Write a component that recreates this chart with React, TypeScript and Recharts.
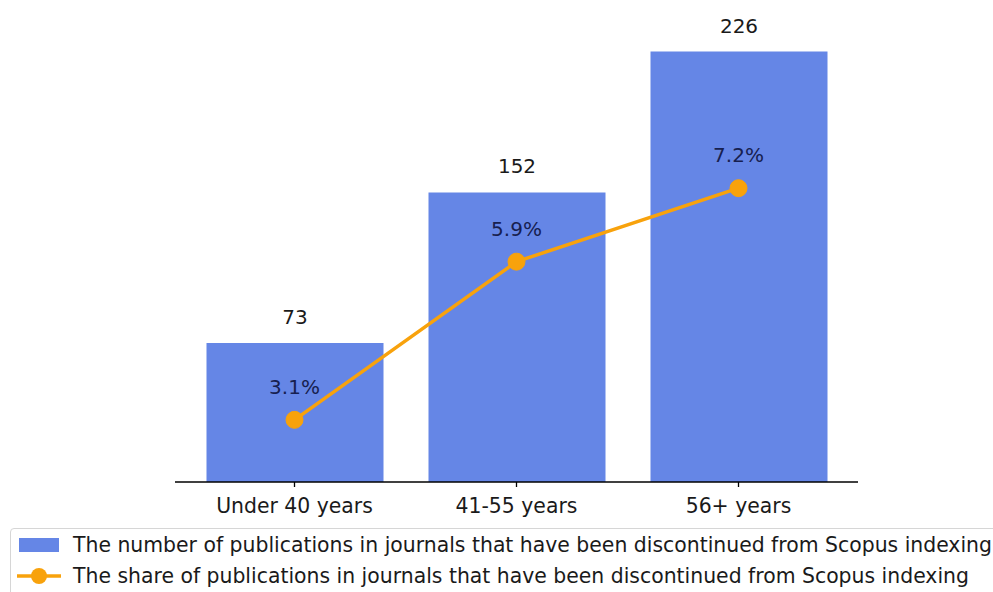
import React from "react";
import { ComposedChart, Bar, Line, XAxis, YAxis, LabelList } from "recharts";

const categories = ["Under 40 years", "41-55 years", "56+ years"];
const counts = [73, 152, 226];
const shares = [3.1, 5.9, 7.2];
const seriesNames = [
  "The number of publications in journals that have been discontinued from Scopus indexing",
  "The share of publications in journals that have been discontinued from Scopus indexing",
];

const data = categories.map((c, i) => ({ cat: c, count: counts[i], share: shares[i] }));

const BLUE = "#6586e6";
const ORANGE = "#f8a20c";
const FONT = "DejaVu Sans";

const LegendBox = () => (
  <div
    style={{
      position: "absolute",
      left: 10,
      top: 528,
      border: "1px solid #d6d6d6",
      borderRadius: 4,
      background: "#fff",
      padding: "0px 0 8px 4px",
      fontFamily: FONT,
      fontSize: 20.4,
      color: "#1a1a1a",
      width: 1000,
      boxSizing: "border-box",
    }}
  >
    <div style={{ display: "flex", alignItems: "center", height: 31 }}>
      <svg width={58} height={20} style={{ flex: "none" }}>
        <rect x={4} y={3} width={40} height={14} fill={BLUE} />
      </svg>
      <span style={{ whiteSpace: "nowrap" }}>{seriesNames[0]}</span>
    </div>
    <div style={{ display: "flex", alignItems: "center", height: 31 }}>
      <svg width={58} height={20} style={{ flex: "none" }}>
        <line x1={2} y1={10} x2={46} y2={10} stroke={ORANGE} strokeWidth={3.5} />
        <circle cx={24} cy={10} r={8} fill={ORANGE} />
      </svg>
      <span style={{ whiteSpace: "nowrap" }}>{seriesNames[1]}</span>
    </div>
  </div>
);

export default function App() {
  return (
    <div style={{ position: "absolute", left: 0, top: 0, width: 993, height: 592, background: "#fff", overflow: "hidden" }}>
      <ComposedChart
        width={993}
        height={592}
        data={data}
        margin={{ top: 30, right: 135, bottom: 50, left: 175 }}
        style={{ fontFamily: FONT }}
      >
        <XAxis
          dataKey="cat"
          padding={{ left: 8.5, right: 8.5 }}
          axisLine={{ stroke: "#000", strokeWidth: 1.3 }}
          tickLine={{ stroke: "#000", strokeWidth: 1.3 }}
          tickSize={5}
          tickMargin={12}
          tick={{ fill: "#1a1a1a", fontSize: 20.4, fontFamily: FONT }}
          interval={0}
          height={60}
        />
        <YAxis yAxisId="left" hide domain={[0, 237.3]} width={0} />
        <YAxis yAxisId="right" orientation="right" hide domain={[2, 10]} width={0} />
        <Bar yAxisId="left" dataKey="count" fill={BLUE} barSize={177} isAnimationActive={false}>
          <LabelList dataKey="count" position="top" offset={19} fill="#1a1a1a" fontSize={20} fontFamily={FONT} />
        </Bar>
        <Line
          yAxisId="right"
          dataKey="share"
          stroke={ORANGE}
          strokeWidth={3.5}
          dot={{ r: 8.5, fill: ORANGE, stroke: ORANGE, strokeWidth: 1 }}
          isAnimationActive={false}
        >
          <LabelList
            dataKey="share"
            position="top"
            offset={26}
            fill="#17204f"
            fontSize={20}
            fontFamily={FONT}
            formatter={(v: number) => `${v}%`}
          />
        </Line>
      </ComposedChart>
      <LegendBox />
    </div>
  );
}
